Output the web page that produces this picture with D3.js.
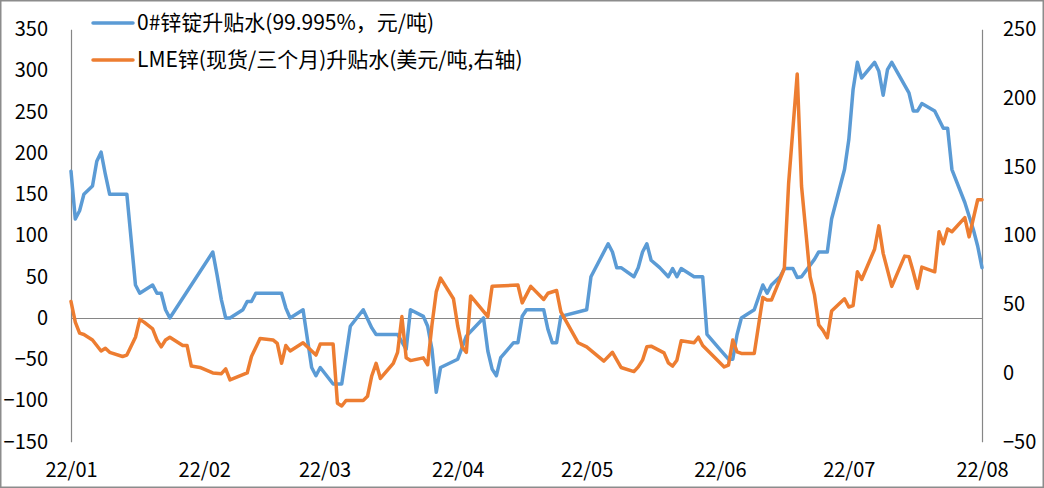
<!DOCTYPE html>
<html><head><meta charset="utf-8">
<script src="https://cdn.jsdelivr.net/npm/d3@7"></script>
<style>
html,body{margin:0;padding:0;background:#fff;}
svg{display:block;}
text{font-family:"Noto Sans CJK SC","Noto Sans",sans-serif;fill:#000;}
</style></head>
<body>
<svg id="chart" width="1044" height="488"></svg>
<script>
// Series names
const seriesNames = ["0#锌锭升贴水(99.995%，元/吨)", "LME锌(现货/三个月)升贴水(美元/吨,右轴)"];

// X-axis tick labels (month starts)
const monthTicks = ["2022-01-01","2022-02-01","2022-03-01","2022-04-01","2022-05-01","2022-06-01","2022-07-01","2022-08-01"];
const monthLabels = ["22/01","22/02","22/03","22/04","22/05","22/06","22/07","22/08"];

// Left axis ticks
const leftTicks = [-150,-100,-50,0,50,100,150,200,250,300,350];
// Right axis ticks
const rightTicks = [-50,0,50,100,150,200,250];

// Series 1: domestic zinc ingot premium (left axis)
const zincDates = ["2022-01-01","2022-01-02","2022-01-03","2022-01-04","2022-01-06","2022-01-07","2022-01-08","2022-01-09","2022-01-10","2022-01-14",
"2022-01-16","2022-01-17","2022-01-20","2022-01-21","2022-01-22","2022-01-23","2022-01-24","2022-02-03","2022-02-04","2022-02-05",
"2022-02-06","2022-02-07","2022-02-10","2022-02-11","2022-02-12","2022-02-13","2022-02-19","2022-02-20","2022-02-21","2022-02-24",
"2022-02-26","2022-02-27","2022-02-28","2022-03-03","2022-03-05","2022-03-07","2022-03-10","2022-03-12","2022-03-13","2022-03-18",
"2022-03-20","2022-03-21","2022-03-24","2022-03-25","2022-03-26","2022-03-27","2022-03-28","2022-04-01","2022-04-03","2022-04-07",
"2022-04-08","2022-04-09","2022-04-10","2022-04-11","2022-04-14","2022-04-15","2022-04-16","2022-04-17","2022-04-21","2022-04-22",
"2022-04-23","2022-04-24","2022-04-25","2022-05-01","2022-05-02","2022-05-06","2022-05-07","2022-05-08","2022-05-09","2022-05-12",
"2022-05-13","2022-05-14","2022-05-15","2022-05-16","2022-05-18","2022-05-20","2022-05-21","2022-05-22","2022-05-23","2022-05-26",
"2022-05-28","2022-05-29","2022-06-01","2022-06-03","2022-06-04","2022-06-05","2022-06-06","2022-06-09","2022-06-11","2022-06-12",
"2022-06-13","2022-06-15","2022-06-16","2022-06-18","2022-06-19","2022-06-20","2022-06-23","2022-06-24","2022-06-26","2022-06-27",
"2022-06-30","2022-07-01","2022-07-02","2022-07-03","2022-07-04","2022-07-07","2022-07-08","2022-07-09","2022-07-10","2022-07-11",
"2022-07-15","2022-07-16","2022-07-17","2022-07-18","2022-07-21","2022-07-23","2022-07-24","2022-07-25","2022-07-28","2022-07-30",
"2022-07-31","2022-08-01"];
const zincValues = [178,120,130,150,160,190,201,174,150,150,
40,30,40,30,30,10,0,80,52,22,
0,0,10,20,20,30,30,12,0,10,
-60,-70,-60,-80,-80,-10,10,-12,-20,-20,
-38,10,2,-10,-38,-90,-60,-50,-22,0,
-40,-62,-70,-48,-30,-30,2,10,10,-14,
-30,-30,2,10,50,90,80,61,61,50,
61,80,90,70,61,50,60,50,60,50,
50,-20,-38,-50,-50,-20,0,10,40,30,
40,50,60,60,49,50,71,80,80,120,
180,216,277,310,291,310,299,270,301,310,
273,251,251,260,251,230,230,180,140,107,
87,61];

// Series 2: LME zinc cash/3M spread (right axis)
const lmeDates = ["2022-01-01","2022-01-02","2022-01-03","2022-01-04","2022-01-06","2022-01-07","2022-01-08","2022-01-09","2022-01-10","2022-01-13",
"2022-01-14","2022-01-16","2022-01-17","2022-01-18","2022-01-20","2022-01-21","2022-01-22","2022-01-23","2022-01-24","2022-01-27",
"2022-01-28","2022-01-29","2022-01-31","2022-02-03","2022-02-05","2022-02-06","2022-02-07","2022-02-11","2022-02-12","2022-02-14",
"2022-02-17","2022-02-18","2022-02-19","2022-02-20","2022-02-21","2022-02-24","2022-02-27","2022-02-28","2022-03-03","2022-03-04",
"2022-03-05","2022-03-06","2022-03-10","2022-03-11","2022-03-12","2022-03-13","2022-03-14","2022-03-17","2022-03-18","2022-03-19",
"2022-03-20","2022-03-21","2022-03-24","2022-03-25","2022-03-26","2022-03-27","2022-03-28","2022-03-31","2022-04-01","2022-04-02",
"2022-04-03","2022-04-04","2022-04-08","2022-04-09","2022-04-15","2022-04-16","2022-04-18","2022-04-21","2022-04-22","2022-04-24",
"2022-04-25","2022-04-29","2022-05-01","2022-05-05","2022-05-07","2022-05-09","2022-05-12","2022-05-13","2022-05-14","2022-05-15",
"2022-05-16","2022-05-19","2022-05-20","2022-05-21","2022-05-22","2022-05-23","2022-05-26","2022-05-27","2022-05-28","2022-06-02",
"2022-06-03","2022-06-04","2022-06-05","2022-06-06","2022-06-09","2022-06-11","2022-06-12","2022-06-13","2022-06-16","2022-06-17",
"2022-06-19","2022-06-20","2022-06-21","2022-06-22","2022-06-23","2022-06-24","2022-06-25","2022-06-26","2022-06-27","2022-06-30",
"2022-07-01","2022-07-02","2022-07-03","2022-07-04","2022-07-07","2022-07-08","2022-07-09","2022-07-11","2022-07-14","2022-07-15",
"2022-07-16","2022-07-17","2022-07-18","2022-07-21","2022-07-22","2022-07-23","2022-07-24","2022-07-25","2022-07-28","2022-07-29",
"2022-07-31","2022-08-01"];
const lmeValues = [52,37,29,28,24,20,16,18,15,12,
13,26,39,37,32,24,19,24,26,20,
20,5,4,0,-0.5,3,-5,0,12,25,
24,21.5,7,20,16,22,13,21,21,-22,
-24,-20,-20,-17,-2,7,-4,7,15,41,
11,9,11,6,35,59,69,54,34,19,
15,56,41,63,64,51,63,53.5,58,60,
44.5,22,19,8.6,15,4,1,4.4,9.3,19,
19.5,14.6,7.4,5,9.3,23.4,22,26,20,4.4,
5.7,24,15.4,14.2,14.2,55,53,53,76,138,
217.5,136,103,70,57,35,31,25.6,45,54,
48,49,73.6,68,90,107,87,63,85,84.5,
73.6,61.5,77,73.6,102.7,94,104.7,102.7,113,99,
126,126];

const W = 1044, H = 488;
const plot = {left: 71, right: 982, top: 29.3, bottom: 441.7};
const parse = d3.timeParse("%Y-%m-%d");
const FONT = '"Noto Sans CJK SC","Noto Sans",sans-serif';

const svg = d3.select("#chart");

// outer border
svg.append("rect").attr("x",0.75).attr("y",0.75).attr("width",W-1.5).attr("height",H-1.5)
  .attr("fill","#fff").attr("stroke","#8c8c8c").attr("stroke-width",1.5);

const x = d3.scaleTime().domain([parse(monthTicks[0]), parse(monthTicks[monthTicks.length-1])]).range([plot.left, plot.right]);
const yL = d3.scaleLinear().domain([-150,350]).range([plot.bottom, plot.top]);
const yR = d3.scaleLinear().domain([-50,250]).range([plot.bottom, plot.top]);

const axisColor = "#868686";
const fontSize = 20;

// left axis
const gL = svg.append("g").attr("transform",`translate(${plot.left},0)`)
  .call(d3.axisLeft(yL).tickValues(leftTicks).tickSize(0).tickPadding(23).tickFormat(d3.format("d")));
gL.select(".domain").attr("stroke",axisColor).attr("stroke-width",1.2);
gL.selectAll("text").attr("font-size",fontSize).style("font-family",FONT);

// right axis
const gR = svg.append("g").attr("transform",`translate(${plot.right},0)`)
  .call(d3.axisRight(yR).tickValues(rightTicks).tickSize(0).tickPadding(21).tickFormat(d3.format("d")));
gR.select(".domain").attr("stroke",axisColor).attr("stroke-width",1.2);
gR.selectAll("text").attr("font-size",fontSize).style("font-family",FONT);

// horizontal zero line (x axis crossing at left 0)
const gX = svg.append("g").attr("transform",`translate(0,${yL(0)})`)
  .call(d3.axisBottom(x).tickValues(monthTicks.map(parse)).tickSize(0).tickFormat(""));
gX.select(".domain").attr("stroke",axisColor).attr("stroke-width",1.2);

// x tick labels at bottom
const gXL = svg.append("g").attr("transform",`translate(0,${plot.bottom})`)
  .call(d3.axisBottom(x).tickValues(monthTicks.map(parse)).tickSize(0).tickPadding(21)
    .tickFormat((d,i)=>monthLabels[i]));
gXL.select(".domain").remove();
gXL.selectAll("text").attr("font-size",fontSize).style("font-family",FONT);

// lines
const zincData = zincDates.map((d,i)=>({date:parse(d), v:zincValues[i]}));
const lmeData = lmeDates.map((d,i)=>({date:parse(d), v:lmeValues[i]}));

const lineL = d3.line().x(d=>x(d.date)).y(d=>yL(d.v));
const lineR = d3.line().x(d=>x(d.date)).y(d=>yR(d.v));

const colors = ["#5B9BD5","#ED7D31"];

svg.append("path").datum(zincData).attr("d",lineL).attr("fill","none")
  .attr("stroke",colors[0]).attr("stroke-width",3.5).attr("stroke-linejoin","round").attr("stroke-linecap","round");
svg.append("path").datum(lmeData).attr("d",lineR).attr("fill","none")
  .attr("stroke",colors[1]).attr("stroke-width",3.5).attr("stroke-linejoin","round").attr("stroke-linecap","round");

// legend
const legendY = [23, 60];
seriesNames.forEach((name,i)=>{
  const g = svg.append("g");
  g.append("line").attr("x1",93).attr("x2",133).attr("y1",legendY[i]).attr("y2",legendY[i])
    .attr("stroke",colors[i]).attr("stroke-width",3.5).attr("stroke-linecap","round");
  g.append("text").attr("x",137).attr("y",legendY[i]).attr("dy","0.35em")
    .attr("font-size",21).style("font-family",FONT).text(name);
});
</script>
</body></html>
